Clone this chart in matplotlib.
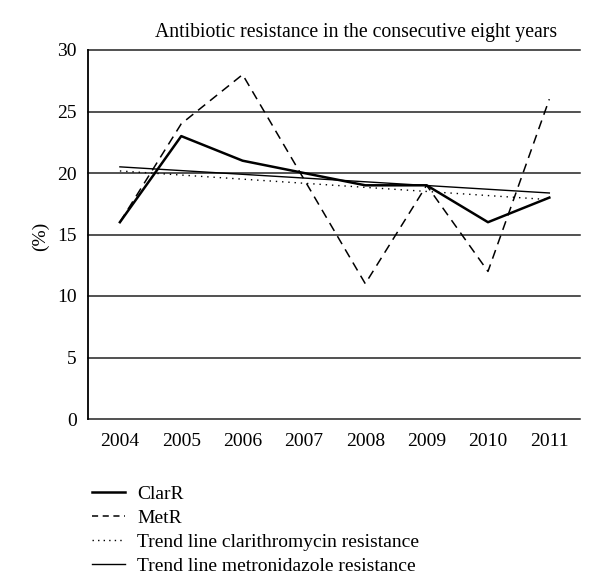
import numpy as np
import matplotlib
matplotlib.use("Agg")
import matplotlib.pyplot as plt
from matplotlib.lines import Line2D

years = ["2004", "2005", "2006", "2007", "2008", "2009", "2010", "2011"]
clar_r = [16, 23, 21, 20, 19, 19, 16, 18]
met_r = [16, 24, 28, 19.5, 11, 19, 12, 26]
y_ticks = [0, 5, 10, 15, 20, 25, 30]

title = "Antibiotic resistance in the consecutive eight years"
labels = ["ClarR", "MetR", "Trend line clarithromycin resistance",
          "Trend line metronidazole resistance"]

plt.rcParams['font.family'] = ['Liberation Serif', 'DejaVu Serif']

fig = plt.figure(figsize=(6.0, 5.81), dpi=100)
ax = fig.add_axes([88/600, 1-419/581, (580-88)/600, (419-50)/581])

x = np.arange(len(years))
# grid lines
for t in y_ticks:
    ax.axhline(t, color='#222222', lw=1.1, zorder=1, clip_on=False)

ax.plot(x, clar_r, color='black', lw=1.8, zorder=3)
ax.plot(x, met_r, color='black', lw=1.1, dashes=(6, 4), zorder=3)

pc = np.polyfit(x, clar_r, 1)
pm = np.polyfit(x, met_r, 1)
xe = np.array([x[0], x[-1]])
ax.plot(xe, np.polyval(pc, xe), color='black', lw=1.0, dashes=(1, 3.5), zorder=2)
ax.plot(xe, np.polyval(pm, xe), color='black', lw=1.0, zorder=2)

ax.set_xlim(-0.52, 7.5)
ax.set_ylim(0, 30)
ax.set_yticks(y_ticks)
ax.set_yticklabels([str(t) for t in y_ticks], fontsize=14)
ax.set_xticks(x)
ax.set_xticklabels(years, fontsize=14)
ax.tick_params(axis='both', length=0)
ax.tick_params(axis='x', pad=10)
ax.tick_params(axis='y', pad=8)
for s in ['top', 'right', 'bottom']:
    ax.spines[s].set_visible(False)
ax.spines['left'].set_linewidth(1.3)
ax.spines['left'].set_color('black')

fig.text(40/600, 1-236/581, "(%)", rotation=90, ha='center', va='center', fontsize=14)
fig.text(356/600, 1-33/581, title, ha='center', va='center', fontsize=14.2)

handles = [
    Line2D([], [], color='black', lw=1.8),
    Line2D([], [], color='black', lw=1.1, dashes=(4, 3)),
    Line2D([], [], color='black', lw=1.0, dashes=(1, 3)),
    Line2D([], [], color='black', lw=1.0),
]
fig.legend(handles, labels, loc='upper left', bbox_to_anchor=(92/600, 1-485/581),
           frameon=False, fontsize=14, handlelength=1.7, handletextpad=0.62,
           labelspacing=0.34, borderpad=0, borderaxespad=0)

fig.savefig("out.png", dpi=100)
